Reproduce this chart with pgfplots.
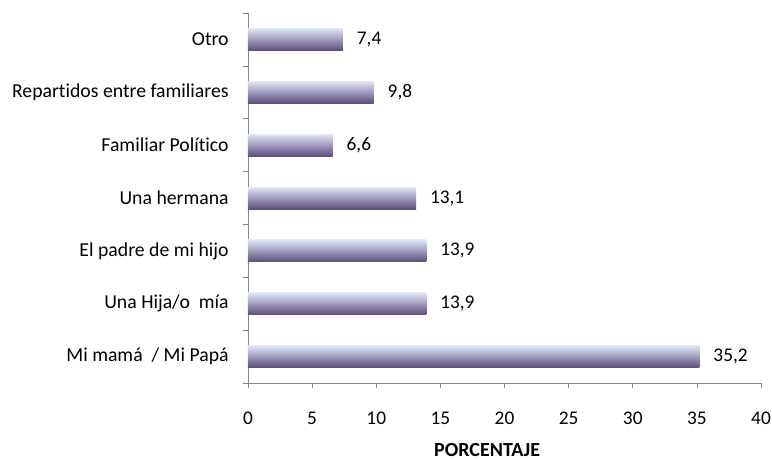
\documentclass[border=0pt]{standalone}
\usepackage{fontspec}
\setmainfont{Carlito}[Ligatures=NoCommon]
\usepackage{pgfplots}
\pgfplotsset{compat=1.18}
\definecolor{axgray}{RGB}{134,134,134}
\definecolor{bartop}{RGB}{222,231,247}
\definecolor{barmid}{RGB}{200,205,234}
\definecolor{barbot}{RGB}{94,76,124}
\pgfplotsset{gbar/.style={draw=none, bar shift=0pt, top color=bartop, middle color=barmid, bottom color=barbot}}
\begin{document}
\begin{tikzpicture}
\begin{axis}[
    at={(186pt,58.5pt)}, anchor=south west,
    scale only axis,
    width=384.75pt, height=277.5pt,
    xbar, bar width=16.5pt,
    xmin=0, xmax=40,
    ymin=-0.5, ymax=6.5,
    axis lines*=left,
    axis line style={axgray},
    every tick/.style={axgray},
    tick align=outside,
    major tick length=4pt,
    xtick={0,5,...,40},
    ytick={-0.5,0.5,...,6.5},
    yticklabels={},
    extra y ticks={0,...,6},
    extra y tick labels={Mi mamá\ \ / Mi Papá, Una Hija/o\ \ mía, El padre de mi hijo, Una hermana, Familiar Político, Repartidos entre familiares, Otro},
    extra y tick style={major tick length=0pt,
        yticklabel style={xshift=-11pt, font=\fontsize{14.8}{16}\selectfont}},
    xticklabel style={yshift=-14pt, font=\fontsize{14.5}{16}\selectfont},
    /pgf/number format/assume math mode=true,
    xlabel={\textbf{PORCENTAJE}},
    xlabel style={font=\fontsize{15}{16}\selectfont, inner sep=0pt, yshift=-11pt, xshift=-13pt},
    nodes near coords,
    nodes near coords style={font=\fontsize{14.5}{17}\selectfont, black, xshift=7pt,
        /pgf/number format/.cd, use comma, fixed, fixed zerofill, precision=1, assume math mode=true},
    clip=false,
]
\addplot[gbar] coordinates {(35.2,0)};
\addplot[gbar] coordinates {(13.9,1)};
\addplot[gbar] coordinates {(13.9,2)};
\addplot[gbar] coordinates {(13.1,3)};
\addplot[gbar] coordinates {(6.6,4)};
\addplot[gbar] coordinates {(9.8,5)};
\addplot[gbar] coordinates {(7.4,6)};
\end{axis}
\pgfresetboundingbox
\path[use as bounding box] (0,0) rectangle (579pt,345.75pt);
\end{tikzpicture}
\end{document}
